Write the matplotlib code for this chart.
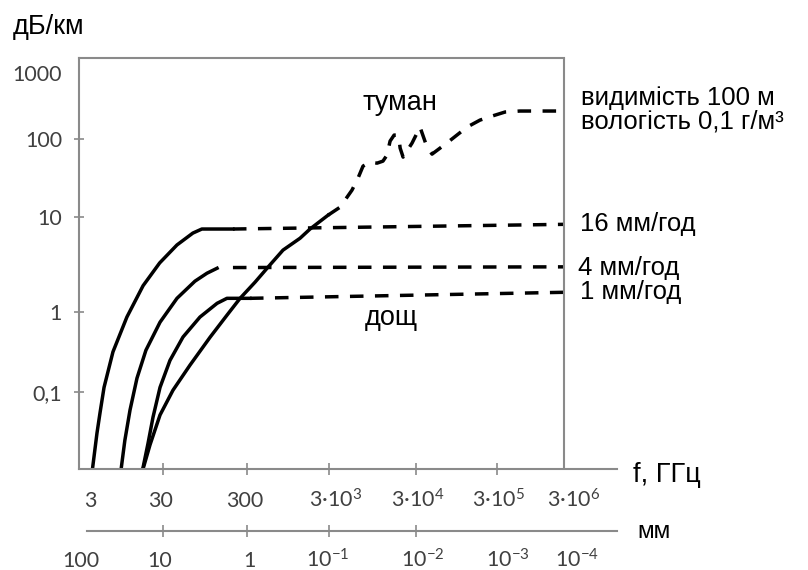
import numpy as np
import matplotlib
matplotlib.use('Agg')
import matplotlib.pyplot as plt
import matplotlib.transforms as mtransforms

plt.rcParams['font.family'] = ['Liberation Sans', 'DejaVu Sans']
plt.rcParams['mathtext.default'] = 'regular'

# ---- data: frequency in GHz, attenuation in dB/km ----
rain16_f = [3.2, 3.74, 4.11, 4.67, 6.19, 9.6, 16, 27, 44, 68, 87, 204]
rain16_db = [0.01, 0.031, 0.055, 0.115, 0.32, 0.87, 1.9, 3.3, 5.1, 6.8, 7.5, 7.5]
rain16_dash_f = [204, 3e6]
rain16_dash_db = [7.5, 8.4]

rain4_f = [7.9, 9.0, 10.6, 13.2, 17.5, 27.3, 44, 72, 100, 132]
rain4_db = [0.01, 0.025, 0.06, 0.15, 0.335, 0.75, 1.4, 2.12, 2.57, 2.9]
rain4_dash_f = [204, 3e6]
rain4_dash_db = [2.95, 3.0]

rain1_f = [15.5, 18.7, 21.9, 27.3, 36.3, 51.9, 82.6, 132, 173, 326]
rain1_db = [0.01, 0.023, 0.049, 0.115, 0.25, 0.49, 0.87, 1.24, 1.4, 1.4]
rain1_dash_f = [326, 3e6]
rain1_dash_db = [1.4, 1.62]

gas_f = [15.5, 19.9, 27.3, 39.4, 62.8, 109, 173, 248, 376, 541, 824, 1330, 1760, 2920]
gas_db = [0.01, 0.022, 0.052, 0.106, 0.218, 0.487, 0.917, 1.4, 2.07, 2.98, 4.5, 6.0, 7.5, 10.6]

fog_f = [2920, 4010, 4830, 5510, 6460, 7380, 8880, 10700, 12500, 13900, 15100,
         16800, 18200, 19200, 19700, 21300, 27000, 33600, 41000, 47300, 74500,
         128000, 185000, 260000, 395000, 661000, 3e6]
fog_db = [10.6, 13.4, 18.0, 22.2, 31.6, 45.1, 50.7, 49.2, 52.2, 62.3, 94.3,
          115, 115, 97, 76.7, 58.8, 88.9, 152, 78.9, 64.2, 91.5,
          152, 194, 223, 257, 266, 266]

y_ticks = [0.1, 1, 10, 100, 1000]
y_labels = ['0,1', '1', '10', '100', '1000']
f_ticks = [3, 30, 300, 3e3, 3e4, 3e5, 3e6]
f_labels = ['3', '30', '300', '3·10$^{3}$', '3·10$^{4}$', '3·10$^{5}$', '3·10$^{6}$']
wl_ticks = [100, 10, 1, 0.1, 0.01, 1e-3, 1e-4]          # mm
wl_labels = ['100', '10', '1', '10$^{-1}$', '10$^{-2}$', '10$^{-3}$', '10$^{-4}$']

# the hand-drawn axes are not evenly spaced per decade, so use a piecewise scale
XA_LOG = [-1.0, 0.477, 1.477, 2.477, 3.477, 4.477, 5.477, 6.477, 8.0]
XA_PX = [-17.8, 90, 163, 247, 329, 416, 497, 564, 666]
YA_LOG = [-3, -1, 0, 1, 2, 3, 5]
YA_PX = [-83, 77, 157, 252, 330, 396, 528]


def fx(v):
    return np.interp(np.log10(np.maximum(v, 1e-12)), XA_LOG, XA_PX)


def fx_inv(p):
    return 10 ** np.interp(p, XA_PX, XA_LOG)


def fy(v):
    return np.interp(np.log10(np.maximum(v, 1e-12)), YA_LOG, YA_PX)


def fy_inv(p):
    return 10 ** np.interp(p, YA_PX, YA_LOG)


def px(x, y):
    return x / 808, 1 - y / 570


GRAY = '#8a8a8a'
NUM = '#404040'
LW = 2.5
DASH = (3.9, 3.3)

fig = plt.figure(figsize=(8.08, 5.70), dpi=100)
ax = fig.add_axes([79 / 808, 101 / 570, 538 / 808, 411 / 570])
ax.set_xscale('function', functions=(fx, fx_inv))
ax.set_yscale('function', functions=(fy, fy_inv))
ax.set_xlim(2.12, 1.853e7)
ax.set_ylim(0.011, 1690)

ax.plot(rain16_f, rain16_db, color='black', lw=LW)
ax.plot(rain16_dash_f, rain16_dash_db, color='black', lw=LW, dashes=DASH)
ax.plot(rain4_f, rain4_db, color='black', lw=LW)
ax.plot(rain4_dash_f, rain4_dash_db, color='black', lw=LW, dashes=DASH)
ax.plot(rain1_f, rain1_db, color='black', lw=LW)
ax.plot(rain1_dash_f, rain1_dash_db, color='black', lw=LW, dashes=DASH)
ax.plot(gas_f, gas_db, color='black', lw=LW)
ax.plot(fog_f, fog_db, color='black', lw=LW, dashes=DASH)

# frame: left + bottom full, top and right closed at 3e6 GHz
for s in ['left', 'bottom', 'top']:
    ax.spines[s].set_color(GRAY)
    ax.spines[s].set_linewidth(1.5)
ax.spines['top'].set_bounds(2.12, 3e6)
ax.spines['right'].set_visible(False)
ax.axvline(3e6, color=GRAY, lw=1.5)

ax.set_yticks(y_ticks, labels=y_labels)
ax.tick_params(axis='y', direction='inout', length=7.2, width=1.2, color=GRAY,
               labelsize=15.5, labelcolor=NUM, pad=8.6)
for lab in ax.get_yticklabels():
    lab.set_fontfamily(['Lato', 'DejaVu Sans'])
ax.yaxis.get_major_ticks()[-1].tick1line.set_visible(False)

ax.set_xticks(f_ticks[1:-1], labels=[])
ax.tick_params(axis='x', direction='inout', length=8.6, width=1.2, color=GRAY)

trans = mtransforms.blended_transform_factory(ax.transData, fig.transFigure)
f_off = [0, -2, -2, 7, 2, 1, 10]
for f, lab, dx in zip(f_ticks, f_labels, f_off):
    ax.text(f, 1 - 507 / 570, lab,
            transform=trans + mtransforms.ScaledTranslation(dx / 100, 0, fig.dpi_scale_trans),
            ha='center', va='baseline', fontsize=15.5, color=NUM,
            fontfamily=['Lato', 'DejaVu Sans'])

# wavelength axis (mm) below
axm = fig.add_axes([79 / 808, 39 / 570, 538 / 808, 1 / 570])
axm.set_xscale('function', functions=(fx, fx_inv))
axm.set_xlim(ax.get_xlim())
axm.patch.set_visible(False)
for s in ['left', 'right', 'top']:
    axm.spines[s].set_visible(False)
axm.spines['bottom'].set_color(GRAY)
axm.spines['bottom'].set_linewidth(1.5)
axm.spines['bottom'].set_bounds(2.73, 1.853e7)
axm.set_yticks([])
axm.set_xticks([300 / w for w in wl_ticks[1:-2]], labels=[])
axm.tick_params(axis='x', direction='inout', length=8.6, width=1.2, color=GRAY)

wl_off = [-9, -3, 2, -1, 7, 11, 13]
for w, lab, dx in zip(wl_ticks, wl_labels, wl_off):
    ax.text(300 / w, 1 - 567 / 570, lab,
            transform=trans + mtransforms.ScaledTranslation(dx / 100, 0, fig.dpi_scale_trans),
            ha='center', va='baseline', fontsize=15.5, color=NUM,
            fontfamily=['Lato', 'DejaVu Sans'])

FS = 18.5
fig.text(*px(13, 34), 'дБ/км', fontsize=19.5, va='baseline')
fig.text(*px(400, 110), 'туман', fontsize=19.5, ha='center', va='baseline')
fig.text(*px(391, 325), 'дощ', fontsize=19.5, ha='center', va='baseline')
fig.text(*px(581, 128), 'видимість 100 м\nвологість 0,1 г/м³', fontsize=FS,
         va='baseline', linespacing=0.95)
fig.text(*px(580, 231), '16 мм/год', fontsize=FS, va='baseline')
fig.text(*px(578, 275), '4 мм/год', fontsize=FS, va='baseline')
fig.text(*px(580, 299), '1 мм/год', fontsize=FS, va='baseline')
fig.text(*px(633, 482), 'f, ГГц', fontsize=19.5, va='baseline')
fig.text(*px(637, 538), 'мм', fontsize=17.5, va='baseline')

fig.savefig('out.png', dpi=100)
